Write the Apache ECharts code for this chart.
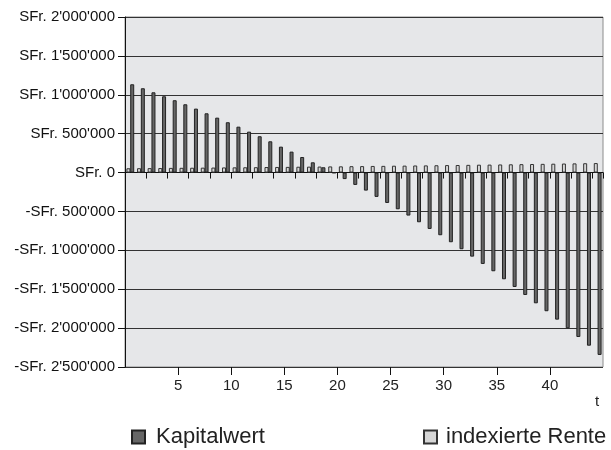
<!DOCTYPE html>
<html>
<head>
<meta charset="utf-8">
<script src="https://cdn.jsdelivr.net/npm/echarts@6/dist/echarts.min.js"></script>
<style>
  html, body { margin: 0; padding: 0; background: #fff; }
  #chart { width: 611px; height: 450px; }
</style>
</head>
<body>
<div id="chart"></div>
<script>
// Jahre t = 1 .. 45
var years = [];
for (var y = 1; y <= 45; y++) years.push(y);

// Kapitalwert (SFr.)
var kapitalwert = [
  1135000, 1084000, 1032000, 981000, 930000,
  878000, 822000, 762000, 706000, 647000,
  590000, 526000, 467000, 402000, 333000,
  269000, 200000, 132000, 68000, -6000,
  -84000, -159000, -232000, -313000, -391000,
  -472000, -553000, -639000, -725000, -806000,
  -896000, -986000, -1081000, -1175000, -1269000,
  -1372000, -1471000, -1574000, -1681000, -1783000,
  -1891000, -2002000, -2114000, -2226000, -2345000
];

// indexierte Rente (SFr.)
var rente = [
  55000, 56000, 57000, 58000, 60000,
  61000, 62000, 63000, 64000, 66000,
  67000, 68000, 69000, 71000, 72000,
  73000, 75000, 76000, 77000, 79000,
  80000, 82000, 83000, 85000, 86000,
  88000, 89000, 91000, 92000, 94000,
  96000, 97000, 99000, 101000, 102000,
  104000, 106000, 108000, 110000, 112000,
  114000, 116000, 118000, 120000, 122000
];

// Beschriftung der t-Achse
var xTickValues = [5, 10, 15, 20, 25, 30, 35, 40];

var font = 'Liberation Sans, Arial, sans-serif';

function chf(v) {
  if (v === 0) return 'SFr. 0';
  var s = String(Math.abs(v)).replace(/\B(?=(\d{3})+(?!\d))/g, "'");
  return (v < 0 ? '-' : '') + 'SFr. ' + s;
}

var option = {
  animation: false,
  backgroundColor: '#fff',
  textStyle: { fontFamily: font },
  grid: {
    left: 125,
    right: 8,
    top: 17,
    bottom: 83,
    show: true,
    backgroundColor: '#e6e7e9',
    borderColor: '#8c8c8c',
    borderWidth: 1
  },
  legend: [
    {
      left: 126,
      top: 421,
      data: ['Kapitalwert'],
      icon: 'rect',
      itemWidth: 13,
      itemHeight: 13,
      textStyle: { fontSize: 22, color: '#222', fontFamily: font, padding: [0, 0, 0, 6] }
    },
    {
      left: 418,
      top: 421,
      data: ['indexierte Rente'],
      icon: 'rect',
      itemWidth: 13,
      itemHeight: 13,
      textStyle: { fontSize: 22, color: '#222', fontFamily: font, padding: [0, 0, 0, 4] }
    }
  ],
  xAxis: [
    {
      type: 'category',
      data: years,
      position: 'bottom',
      axisLine: { onZero: true, lineStyle: { color: '#111', width: 1 } },
      axisTick: { show: true, length: 6, lineStyle: { color: '#111' } },
      axisLabel: { show: false },
      splitLine: { show: false }
    },
    {
      type: 'value',
      min: 0,
      max: 45,
      position: 'bottom',
      name: 't',
      nameLocation: 'end',
      nameGap: -8,
      nameTextStyle: { fontSize: 15, color: '#222', align: 'left', verticalAlign: 'top', padding: [27, 0, 0, 0] },
      axisLine: { show: false, onZero: false },
      axisTick: { show: true, length: 8, customValues: xTickValues, lineStyle: { color: '#111' } },
      axisLabel: { customValues: xTickValues, fontSize: 15, color: '#222', margin: 11 },
      splitLine: { show: false }
    }
  ],
  yAxis: {
    type: 'value',
    min: -2500000,
    max: 2000000,
    interval: 500000,
    axisLine: { show: true, lineStyle: { color: '#111' } },
    axisTick: { show: true, length: 7, lineStyle: { color: '#111' } },
    axisLabel: { formatter: chf, fontSize: 15, color: '#111', margin: 10 },
    splitLine: { show: true, lineStyle: { color: '#333', width: 1 } }
  },
  series: [
    {
      name: 'indexierte Rente',
      type: 'bar',
      xAxisIndex: 0,
      data: rente,
      barWidth: 4,
      barGap: '-5%',
      itemStyle: { color: '#d6d6d6', borderColor: '#333', borderWidth: 1 }
    },
    {
      name: 'Kapitalwert',
      type: 'bar',
      xAxisIndex: 0,
      data: kapitalwert,
      barWidth: 4,
      barGap: '-5%',
      itemStyle: { color: '#666', borderColor: '#222', borderWidth: 1 }
    }
  ]
};

var chart = echarts.init(document.getElementById('chart'));
chart.setOption(option);
</script>
</body>
</html>
